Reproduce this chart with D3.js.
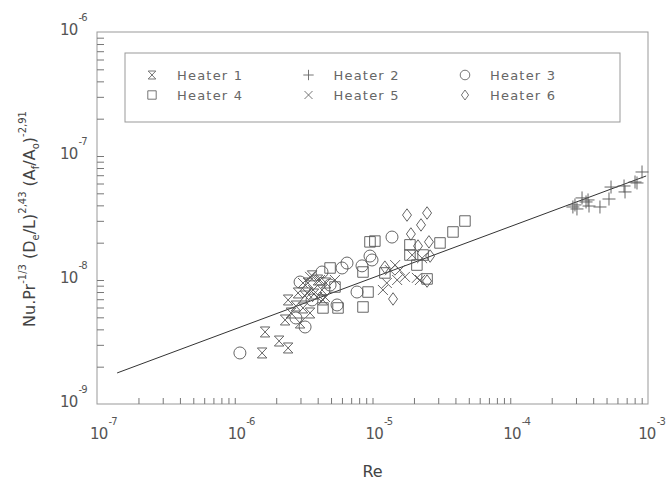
<!DOCTYPE html>
<html>
<head>
<meta charset="utf-8">
<script src="https://cdn.jsdelivr.net/npm/d3@7"></script>
<style>
  body { margin: 0; background: #fff; }
  svg { display: block; font-family: 'DejaVu Sans', sans-serif; }
</style>
</head>
<body>
<svg width="666" height="480"></svg>
<script>
// [Re, Nu.Pr^-1/3 ...]
const heater1 = [
  [1.58e-6, 2.58e-9], [1.66e-6, 3.81e-9], [2.1e-6, 3.22e-9], [2.44e-6, 2.83e-9],
  [2.32e-6, 4.76e-9], [2.44e-6, 6.9e-9], [2.56e-6, 5.42e-9], [2.88e-6, 7.86e-9],
  [2.98e-6, 4.5e-9], [3.13e-6, 5.95e-9], [3.4e-6, 9.46e-9], [3.52e-6, 5.42e-9],
  [4.02e-6, 1.0e-8], [4.3e-6, 8.31e-9], [4.37e-6, 6.9e-9], [3.24e-6, 7.43e-9],
  [2.78e-6, 6.17e-9], [3.76e-6, 7.71e-9], [4.6e-6, 9.46e-9], [3.64e-6, 1.08e-8]
];
const heater2 = [
  [2.85e-4, 3.88e-8], [2.95e-4, 4.03e-8], [3.05e-4, 3.74e-8], [3.32e-4, 4.59e-8],
  [3.55e-4, 4.26e-8], [3.67e-4, 4.42e-8], [3.73e-4, 3.95e-8], [4.48e-4, 3.88e-8],
  [5.21e-4, 4.5e-8], [5.39e-4, 5.62e-8], [6.7e-4, 5.73e-8], [6.81e-4, 5.13e-8],
  [8.05e-4, 6.17e-8], [8.32e-4, 6.06e-8], [9.05e-4, 7.43e-8]
];
const heater3 = [
  [1.09e-6, 2.58e-9], [2.98e-6, 9.63e-9], [3.24e-6, 4.18e-9], [4.3e-6, 1.16e-8],
  [6.01e-6, 1.25e-8], [6.53e-6, 1.37e-8], [7.72e-6, 8.0e-9], [9.92e-6, 1.45e-8],
  [9.59e-6, 1.56e-8], [1.385e-5, 2.22e-8], [5.53e-6, 6.29e-9], [4.92e-6, 9.11e-9],
  [3.64e-6, 6.9e-9], [8.39e-6, 1.3e-8], [2.78e-6, 4.94e-9]
];
const heater4 = [
  [4.37e-6, 5.95e-9], [5.62e-6, 5.95e-9], [4.92e-6, 1.25e-8], [5.34e-6, 8.78e-9],
  [8.53e-6, 6.06e-9], [9.28e-6, 8.0e-9], [8.53e-6, 1.16e-8], [9.59e-6, 2.03e-8],
  [1.04e-5, 2.06e-8], [1.23e-5, 1.14e-8], [1.87e-5, 1.92e-8], [1.87e-5, 1.59e-8],
  [2.1e-5, 1.32e-8], [2.33e-5, 1.59e-8], [2.49e-5, 1.02e-8], [3.09e-5, 1.99e-8],
  [3.84e-5, 2.44e-8], [4.69e-5, 2.99e-8]
];
const heater5 = [
  [3.13e-6, 9.46e-9], [3.35e-6, 7.86e-9], [3.52e-6, 1.06e-8], [3.7e-6, 8.31e-9],
  [3.96e-6, 7.29e-9], [4.16e-6, 1.0e-8], [4.52e-6, 7.29e-9], [5.34e-6, 1.0e-8],
  [1.19e-5, 8.31e-9], [1.27e-5, 9.46e-9], [1.34e-5, 1.2e-8], [1.46e-5, 1.32e-8],
  [1.51e-5, 1.0e-8], [1.58e-5, 1.2e-8], [1.72e-5, 1.06e-8], [1.94e-5, 1.59e-8],
  [2.1e-5, 1.04e-8], [2.21e-5, 1.0e-8], [2.29e-5, 1.5e-8]
];
const heater6 = [
  [1.78e-5, 3.34e-8], [2.49e-5, 3.47e-8], [2.25e-5, 2.78e-8], [1.9e-5, 2.35e-8],
  [2.14e-5, 1.88e-8], [2.57e-5, 2.03e-8], [2.62e-5, 1.56e-8], [1.41e-5, 7.03e-9],
  [2.49e-5, 9.81e-9], [1.23e-5, 1.27e-8]
];
const fitRe = [1.4e-7, 9.7e-4];
const fitY = [1.78e-9, 6.9e-8];

const seriesNames = ['Heater 1', 'Heater 2', 'Heater 3', 'Heater 4', 'Heater 5', 'Heater 6'];
const xTickExps = [-7, -6, -5, -4, -3];
const yTickExps = [-9, -8, -7, -6];

const width = 666;
const height = 480;
const margin = { top: 32, right: 18, bottom: 76, left: 97 };
const ink = '#444';

const svg = d3.select('svg');

const xScale = d3.scaleLog().domain([1e-7, 1e-3]).range([margin.left, width - margin.right]);
const yScale = d3.scaleLog().domain([1e-9, 1e-6]).range([height - margin.bottom, margin.top]);

// marker shapes
const shapes = {
  hourglass: s => `M${-s * 0.95},${-s}L${s * 0.95},${-s}L${-s * 0.95},${s}L${s * 0.95},${s}Z`,
  plus: s => `M${-s * 1.3},0L${s * 1.3},0M0,${-s * 1.3}L0,${s * 1.3}`,
  circle: s => `M${s * 1.2},0A${s * 1.2},${s * 1.2} 0 1,1 ${-s * 1.2},0A${s * 1.2},${s * 1.2} 0 1,1 ${s * 1.2},0Z`,
  square: s => `M${-s * 1.05},${-s * 1.05}L${s * 1.05},${-s * 1.05}L${s * 1.05},${s * 1.05}L${-s * 1.05},${s * 1.05}Z`,
  cross: s => `M${-s},${-s}L${s},${s}M${-s},${s}L${s},${-s}`,
  diamond: s => `M0,${-s * 1.25}L${s * 0.9},0L0,${s * 1.25}L${-s * 0.9},0Z`
};
const shapeOf = ['hourglass', 'plus', 'circle', 'square', 'cross', 'diamond'];
const allSeries = [heater1, heater2, heater3, heater4, heater5, heater6];

// frame
svg.append('rect')
  .attr('x', xScale.range()[0])
  .attr('y', yScale.range()[1])
  .attr('width', xScale.range()[1] - xScale.range()[0])
  .attr('height', yScale.range()[0] - yScale.range()[1])
  .attr('fill', 'none')
  .attr('stroke', '#999')
  .attr('stroke-width', 1);

const minor = (lo, hi) => {
  const out = [];
  for (let e = lo; e < hi; e++) for (let k = 1; k < 10; k++) out.push(k * Math.pow(10, e));
  return out.slice(1);
};

const xAxis = d3.axisBottom(xScale).tickValues(minor(-7, -3)).tickSize(-6).tickFormat('');
svg.append('g')
  .attr('transform', `translate(0, ${yScale.range()[0]})`)
  .call(xAxis)
  .call(g => g.select('.domain').remove())
  .call(g => g.selectAll('line').attr('stroke', '#777'));

const yAxis = d3.axisLeft(yScale).tickValues(minor(-9, -6)).tickSize(-7).tickFormat('');
svg.append('g')
  .attr('transform', `translate(${xScale.range()[0]}, 0)`)
  .call(yAxis)
  .call(g => g.select('.domain').remove())
  .call(g => g.selectAll('line').attr('stroke', '#777'));

// tick labels 10^n
const xLab = svg.append('g').attr('fill', '#555');
xTickExps.forEach(e => {
  const t = xLab.append('text')
    .attr('x', xScale(Math.pow(10, e)) - 7)
    .attr('y', 439)
    .attr('font-size', 15)
    .attr('letter-spacing', -0.8);
  t.append('tspan').text('10');
  t.append('tspan').attr('dx', 1).attr('dy', -14).attr('font-size', 10).text(e);
  // keep the last label inside the page
  const w = t.node().getComputedTextLength();
  const x0 = +t.attr('x');
  if (x0 + w > width - 2) t.attr('x', width - 2 - w);
});

const yLab = svg.append('g').attr('fill', '#555');
yTickExps.forEach(e => {
  const t = yLab.append('text')
    .attr('x', 60)
    .attr('y', yScale(Math.pow(10, e)) + 3)
    .attr('font-size', 15)
    .attr('letter-spacing', -0.8);
  t.append('tspan').text('10');
  t.append('tspan').attr('dx', 1).attr('dy', -14).attr('font-size', 10).text(e);
});

// axis titles
svg.append('text')
  .attr('x', (xScale.range()[0] + xScale.range()[1]) / 2)
  .attr('y', 477)
  .attr('text-anchor', 'middle')
  .attr('font-size', 16)
  .attr('fill', ink)
  .text('Re');

const yTitle = svg.append('text')
  .attr('transform', 'translate(35, 219) rotate(-90)')
  .attr('text-anchor', 'middle')
  .attr('font-size', 16)
  .attr('fill', ink);
const parts = [
  ['Nu.Pr', 0, 16], ['-1/3', -9, 10], [' (D', 9, 16], ['e', 4, 10], ['/L)', -4, 16],
  ['2,43', -9, 10], [' (A', 9, 16], ['f', 4, 10], ['/A', -4, 16], ['o', 4, 10],
  [')', -4, 16], ['-2,91', -9, 10]
];
parts.forEach(([txt, dy, fs]) => {
  yTitle.append('tspan').attr('dy', dy).attr('font-size', fs).text(txt);
});

// fit line
svg.append('line')
  .attr('x1', xScale(fitRe[0]))
  .attr('y1', yScale(fitY[0]))
  .attr('x2', xScale(fitRe[1]))
  .attr('y2', yScale(fitY[1]))
  .attr('stroke', '#333')
  .attr('stroke-width', 1);

// points
allSeries.forEach((data, i) => {
  svg.append('g')
    .selectAll('path')
    .data(data)
    .enter()
    .append('path')
    .attr('transform', d => `translate(${xScale(d[0])}, ${yScale(d[1])})`)
    .attr('d', shapes[shapeOf[i]](5))
    .attr('fill', 'none')
    .attr('stroke', '#555')
    .attr('stroke-width', 0.9);
});

// legend
const legend = svg.append('g').attr('id', 'legend');
legend.append('rect')
  .attr('x', 125)
  .attr('y', 53)
  .attr('width', 495)
  .attr('height', 69)
  .attr('fill', '#fff')
  .attr('stroke', '#999');

seriesNames.forEach((name, i) => {
  const col = i % 3;
  const row = Math.floor(i / 3);
  const item = legend.append('g')
    .attr('transform', `translate(${152 + col * 156.5}, ${75 + row * 20})`);
  item.append('path')
    .attr('d', shapes[shapeOf[i]](4))
    .attr('fill', 'none')
    .attr('stroke', '#666')
    .attr('stroke-width', 0.9);
  item.append('text')
    .attr('x', 25)
    .attr('y', 5)
    .attr('font-size', 13)
    .attr('letter-spacing', 1.2)
    .attr('fill', '#666')
    .text(name);
});
</script>
</body>
</html>
